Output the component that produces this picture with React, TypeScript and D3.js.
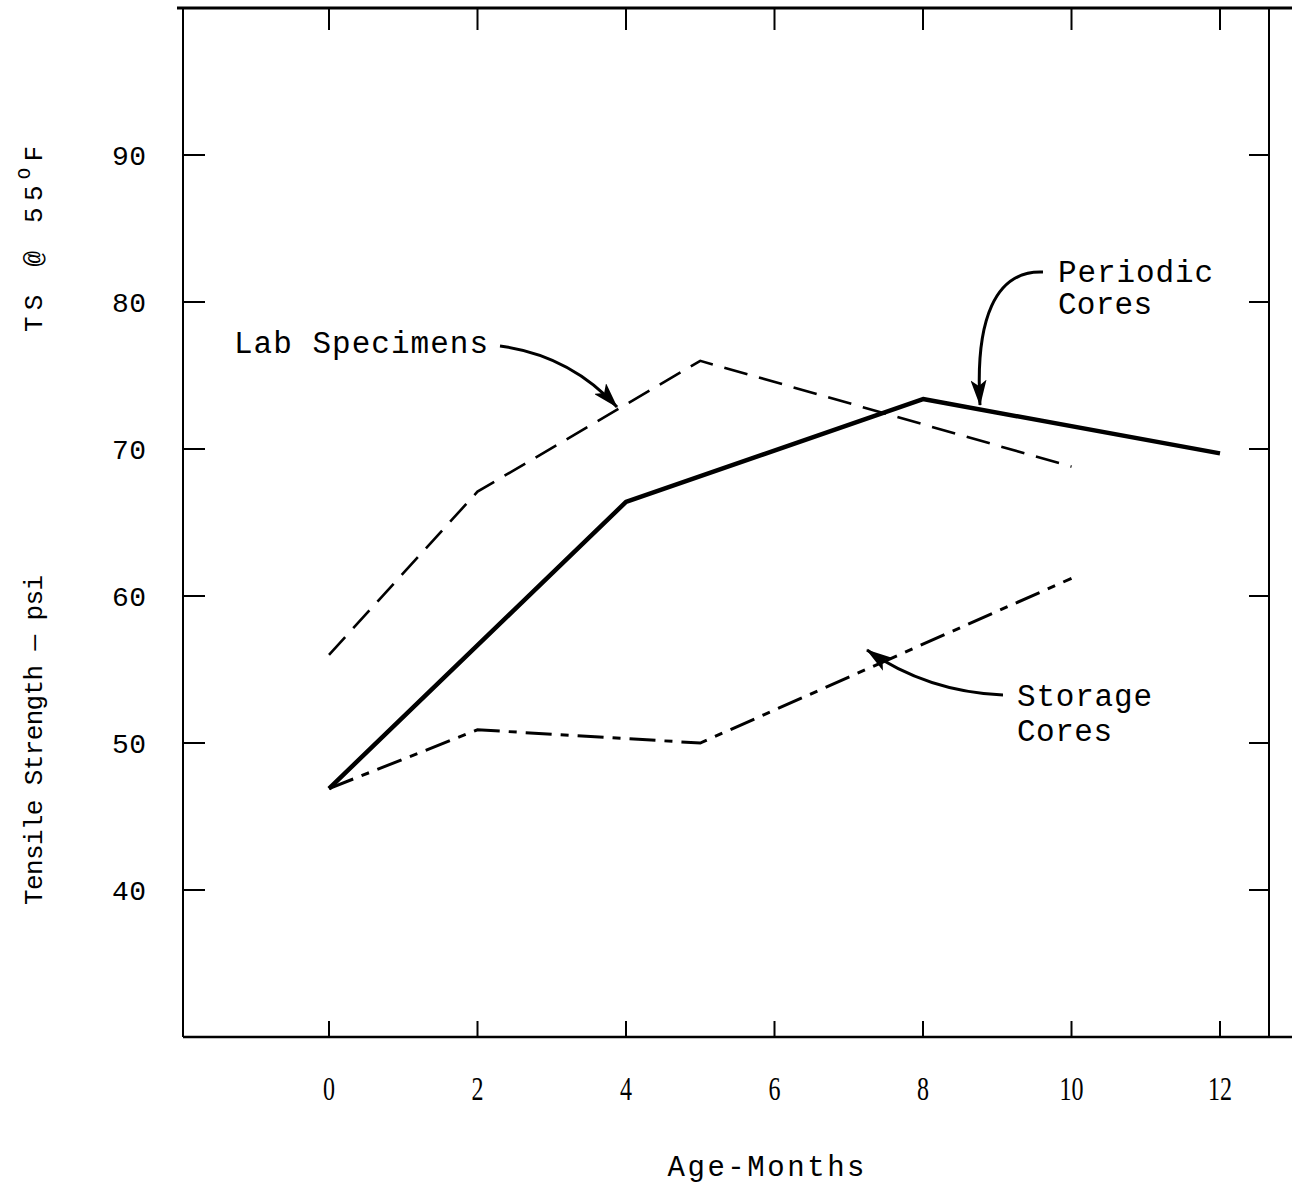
import React from "react";
import * as d3 from "d3";

const xTicks = [0, 2, 4, 6, 8, 10, 12];
const yTicks = [40, 50, 60, 70, 80, 90];

const labMonths = [0, 2, 5, 10];
const labValues = [56, 67.1, 76.0, 68.8];

const periodicMonths = [0, 4, 8, 12];
const periodicValues = [46.9, 66.4, 73.4, 69.7];

const storageMonths = [0, 2, 5, 10];
const storageValues = [46.9, 50.9, 50.0, 61.2];

const W = 1296;
const H = 1188;
const frame = { left: 183, right: 1269, top: 8, bottom: 1037 };

const x = d3.scaleLinear().domain([0, 12]).range([329, 1220]);
const y = d3.scaleLinear().domain([40, 90]).range([890, 155]);

const line = d3
  .line<[number, number]>()
  .x((d) => x(d[0]))
  .y((d) => y(d[1]));

const zip = (a: number[], b: number[]) => a.map((v, i) => [v, b[i]] as [number, number]);

const mono = "'Liberation Mono', 'DejaVu Sans Mono', monospace";
const serif = "'Liberation Serif', 'DejaVu Serif', serif";

export default function App() {
  return (
    <svg
      width={W}
      height={H}
      style={{ position: "absolute", left: 0, top: 0, background: "#fff" }}
      xmlns="http://www.w3.org/2000/svg"
    >
      <defs>
        <marker
          id="ah"
          viewBox="0 0 26 16"
          refX="25"
          refY="8"
          markerWidth="26"
          markerHeight="16"
          markerUnits="userSpaceOnUse"
          orient="auto"
        >
          <path d="M0,0 L26,8 L0,16 L6,8 Z" fill="#000" />
        </marker>
      </defs>
      <rect x={0} y={0} width={W} height={H} fill="#fff" />

      {/* frame */}
      <g stroke="#000" fill="none">
        <line x1={177} x2={1292} y1={frame.top} y2={frame.top} strokeWidth={3} />
        <line x1={frame.left} x2={1292} y1={frame.bottom} y2={frame.bottom} strokeWidth={2.5} />
        <line x1={frame.left} x2={frame.left} y1={frame.top} y2={frame.bottom} strokeWidth={2} />
        <line x1={frame.right} x2={frame.right} y1={frame.top} y2={frame.bottom} strokeWidth={2} />
      </g>

      {/* ticks */}
      <g stroke="#000" strokeWidth={2}>
        {xTicks.map((t) => (
          <g key={"xt" + t}>
            <line x1={x(t)} x2={x(t)} y1={frame.top} y2={frame.top + 22} />
            <line x1={x(t)} x2={x(t)} y1={frame.bottom} y2={frame.bottom - 16} />
          </g>
        ))}
        {yTicks.map((t) => (
          <g key={"yt" + t}>
            <line x1={frame.left} x2={frame.left + 22} y1={y(t)} y2={y(t)} />
            <line x1={frame.right} x2={frame.right - 20} y1={y(t)} y2={y(t)} />
          </g>
        ))}
      </g>

      {/* x tick labels */}
      <g fontFamily={serif} fontSize={33} fill="#000" textAnchor="middle">
        {xTicks.map((t) => (
          <text
            key={"xl" + t}
            x={x(t)}
            y={1100}
            textLength={String(t).length * 12}
            lengthAdjust="spacingAndGlyphs"
          >
            {t}
          </text>
        ))}
      </g>

      {/* y tick labels */}
      <g fontFamily={mono} fontSize={28} fill="#000" textAnchor="middle">
        {yTicks.map((t) => (
          <text
            key={"yl" + t}
            x={129}
            y={y(t) + 10}
            textLength={34}
            lengthAdjust="spacing"
          >
            {t}
          </text>
        ))}
      </g>

      {/* axis titles */}
      <text
        x={766}
        y={1176}
        fontFamily={mono}
        fontSize={29}
        textAnchor="middle"
        fill="#000"
        textLength={197}
        lengthAdjust="spacing"
      >
        Age-Months
      </text>
      <g transform="translate(42,0) rotate(-90)" fontFamily={mono} fontSize={26} fill="#000">
        <text x={-905} y={0} textLength={330} lengthAdjust="spacing">
          Tensile Strength — psi
        </text>
        <text x={-332} y={0} textLength={186} lengthAdjust="spacing">
          <tspan>TS @ 55</tspan>
          <tspan fontSize={19} dy={-12}>O</tspan>
          <tspan dy={12}>F</tspan>
        </text>
      </g>

      {/* series */}
      <path
        d={line(zip(labMonths, labValues)) || ""}
        fill="none"
        stroke="#000"
        strokeWidth={2.6}
        strokeDasharray="24 12"
      />
      <path
        d={line(zip(periodicMonths, periodicValues)) || ""}
        fill="none"
        stroke="#000"
        strokeWidth={4.5}
        strokeLinejoin="round"
      />
      <path
        d={line(zip(storageMonths, storageValues)) || ""}
        fill="none"
        stroke="#000"
        strokeWidth={3}
        strokeDasharray="26 9 8 9"
      />

      {/* annotations */}
      <g fontFamily={mono} fontSize={31} fill="#000">
        <text x={234} y={353} textLength={254} lengthAdjust="spacing">Lab Specimens</text>
        <text x={1058} y={282} textLength={155} lengthAdjust="spacing">Periodic</text>
        <text x={1058} y={314} textLength={94} lengthAdjust="spacing">Cores</text>
        <text x={1017} y={706} textLength={135} lengthAdjust="spacing">Storage</text>
        <text x={1017} y={741} textLength={95} lengthAdjust="spacing">Cores</text>
      </g>
      <g fill="none" stroke="#000" strokeWidth={3}>
        <path d="M500,346 C545,352 585,372 617,407" markerEnd="url(#ah)" />
        <path d="M1043,272 C995,270 975,320 980,405" markerEnd="url(#ah)" />
        <path d="M1003,695 C955,693 910,680 867,650" markerEnd="url(#ah)" />
      </g>
    </svg>
  );
}
